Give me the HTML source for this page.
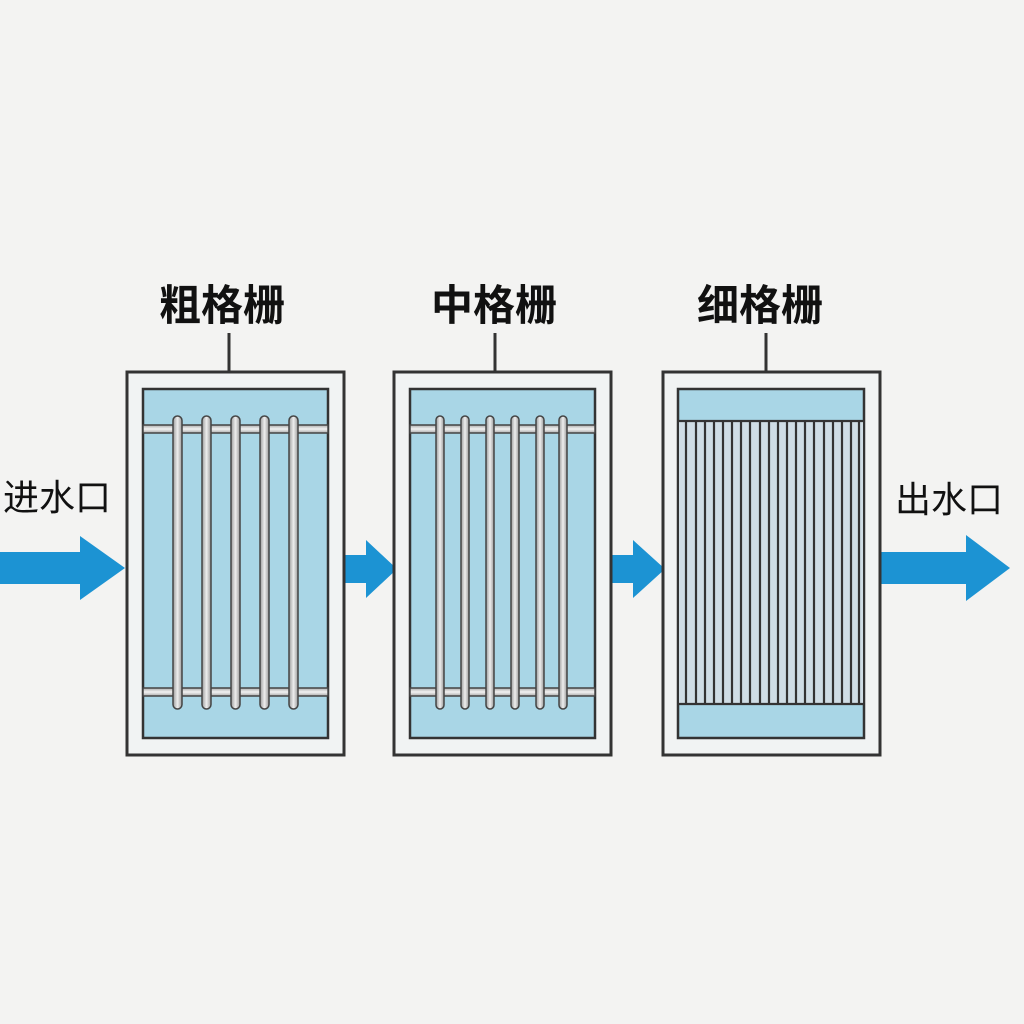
<!DOCTYPE html>
<html><head><meta charset="utf-8"><style>
body{margin:0;background:#f3f3f2;}
svg{display:block}
text{font-family:"Liberation Sans","Noto Sans CJK SC",sans-serif;fill:#111;}
</style></head><body>
<svg width="1024" height="1024" viewBox="0 0 1024 1024">
<rect width="1024" height="1024" fill="#f3f3f2"/>
<defs>
<linearGradient id="bar" x1="0" x2="1"><stop offset="0" stop-color="#9a9a9a"/><stop offset=".5" stop-color="#eeeeee"/><stop offset="1" stop-color="#9a9a9a"/></linearGradient>
<linearGradient id="rail" y1="0" y2="1" x1="0" x2="0"><stop offset="0" stop-color="#aaa"/><stop offset=".5" stop-color="#f2f2f2"/><stop offset="1" stop-color="#aaa"/></linearGradient>
</defs>
<!-- labels -->
<text x="222" y="320" font-size="42" text-anchor="middle" font-weight="bold">粗格栅</text>
<text x="494" y="320" font-size="42" text-anchor="middle" font-weight="bold">中格栅</text>
<text x="760" y="320" font-size="42" text-anchor="middle" font-weight="bold">细格栅</text>
<text x="57" y="510" font-size="36" text-anchor="middle">进水口</text>
<text x="949" y="512" font-size="36" text-anchor="middle">出水口</text>
<g stroke="#333" stroke-width="3">
<line x1="229" y1="333" x2="229" y2="386"/><line x1="495" y1="333" x2="495" y2="386"/><line x1="766" y1="333" x2="766" y2="386"/>
</g>
<!-- arrows -->
<g fill="#1c93d3">
<polygon points="0,552 80,552 80,536 125,568 80,600 80,584 0,584"/>
<polygon points="343,555 366,555 366,540 397,569 366,598 366,583 343,583"/>
<polygon points="611,555 633,555 633,540 665,569 633,598 633,583 611,583"/>
<polygon points="880,552 966,552 966,535 1010,568 966,601 966,584 880,584"/>
</g>
<!-- box1 -->
<rect x="127" y="372" width="217" height="383" fill="#f1f3f3" stroke="#333" stroke-width="3"/>
<rect x="143" y="389" width="185" height="349" fill="#a9d6e6" stroke="#333" stroke-width="2.5"/>
<g stroke="#444" stroke-width="1.5">
<rect x="143" y="425" width="185" height="8" fill="url(#rail)"/>
<rect x="143" y="688" width="185" height="8" fill="url(#rail)"/>
<rect x="173" y="416" width="9" height="293" rx="4.5" fill="url(#bar)"/>
<rect x="202" y="416" width="9" height="293" rx="4.5" fill="url(#bar)"/>
<rect x="231" y="416" width="9" height="293" rx="4.5" fill="url(#bar)"/>
<rect x="260" y="416" width="9" height="293" rx="4.5" fill="url(#bar)"/>
<rect x="289" y="416" width="9" height="293" rx="4.5" fill="url(#bar)"/>
</g>
<!-- box2 -->
<rect x="394" y="372" width="217" height="383" fill="#f1f3f3" stroke="#333" stroke-width="3"/>
<rect x="410" y="389" width="185" height="349" fill="#a9d6e6" stroke="#333" stroke-width="2.5"/>
<g stroke="#444" stroke-width="1.5">
<rect x="410" y="425" width="185" height="8" fill="url(#rail)"/>
<rect x="410" y="688" width="185" height="8" fill="url(#rail)"/>
<rect x="436" y="416" width="8" height="293" rx="4" fill="url(#bar)"/>
<rect x="461" y="416" width="8" height="293" rx="4" fill="url(#bar)"/>
<rect x="486" y="416" width="8" height="293" rx="4" fill="url(#bar)"/>
<rect x="511" y="416" width="8" height="293" rx="4" fill="url(#bar)"/>
<rect x="536" y="416" width="8" height="293" rx="4" fill="url(#bar)"/>
<rect x="559" y="416" width="8" height="293" rx="4" fill="url(#bar)"/>
</g>
<!-- box3 -->
<rect x="663" y="372" width="217" height="383" fill="#f1f3f3" stroke="#333" stroke-width="3"/>
<rect x="678" y="389" width="186" height="349" fill="#a9d6e6" stroke="#333" stroke-width="2.5"/>
<rect x="679" y="420" width="184" height="285" fill="#cfdde5"/>
<g stroke="#333" stroke-width="2.2" fill="none">
<line x1="686" y1="420" x2="686" y2="705"/><line x1="696" y1="420" x2="696" y2="705"/>
<line x1="705" y1="420" x2="705" y2="705"/><line x1="714" y1="420" x2="714" y2="705"/>
<line x1="723" y1="420" x2="723" y2="705"/><line x1="732" y1="420" x2="732" y2="705"/>
<line x1="741" y1="420" x2="741" y2="705"/><line x1="750" y1="420" x2="750" y2="705"/>
<line x1="760" y1="420" x2="760" y2="705"/><line x1="769" y1="420" x2="769" y2="705"/>
<line x1="778" y1="420" x2="778" y2="705"/><line x1="787" y1="420" x2="787" y2="705"/>
<line x1="796" y1="420" x2="796" y2="705"/><line x1="805" y1="420" x2="805" y2="705"/>
<line x1="814" y1="420" x2="814" y2="705"/><line x1="824" y1="420" x2="824" y2="705"/>
<line x1="833" y1="420" x2="833" y2="705"/><line x1="842" y1="420" x2="842" y2="705"/>
<line x1="851" y1="420" x2="851" y2="705"/><line x1="859" y1="420" x2="859" y2="705"/>
<line x1="679" y1="421" x2="863" y2="421"/><line x1="679" y1="704" x2="863" y2="704"/>
</g>
</svg>
</body></html>
